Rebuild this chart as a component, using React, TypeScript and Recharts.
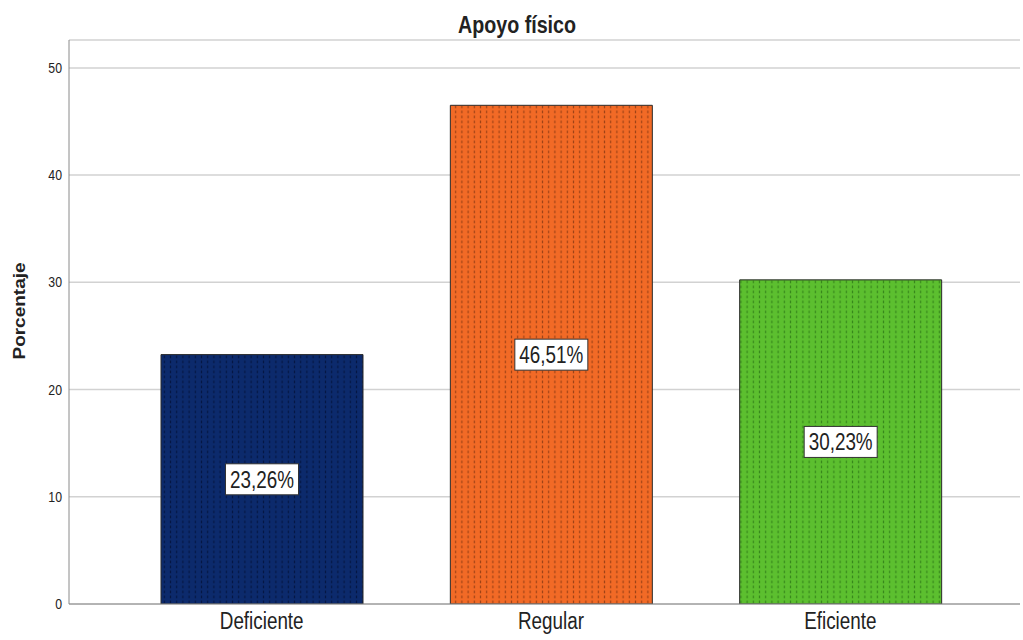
import React from 'react';
import { BarChart, Bar, XAxis, YAxis, CartesianGrid, Cell, LabelList } from 'recharts';

const categories = ['Deficiente', 'Regular', 'Eficiente'];
const percentages = [23.26, 46.51, 30.23];
const yTicks = [0, 10, 20, 30, 40, 50];
const barColors = ['#0c2a6c', '#f26a26', '#5cbf2f'];
const dashColors = ['#04133a', '#8c3a12', '#2f7a18'];

const data = categories.map((name, i) => ({ name, value: percentages[i] }));

const FONT = "'Liberation Sans', Arial, sans-serif";
const SQUEEZE = 0.82;

// text drawn slightly condensed, like the exported SPSS output
const NarrowText = ({ x, y, size, anchor = 'middle', bold = false, children }: any) => (
  <g transform={`translate(${x},${y}) scale(${SQUEEZE},1)`}>
    <text x={0} y={0} textAnchor={anchor} fontSize={size} fontFamily={FONT}
      fontWeight={bold ? 'bold' : 'normal'} fill="#222">
      {children}
    </text>
  </g>
);

const YTick = ({ x, y, payload }: any) => (
  <NarrowText x={x} y={y + 5} size={15} anchor="end">{payload.value}</NarrowText>
);

const XTick = ({ x, y, payload }: any) => (
  <NarrowText x={x} y={y + 17} size={23}>{payload.value}</NarrowText>
);

const fmt = (v: number) => v.toFixed(2).replace('.', ',') + '%';

const ValueBox = ({ x, y, width, height, value }: any) => {
  const cx = x + width / 2;
  const cy = y + height / 2;
  return (
    <g>
      <rect x={cx - 36.5} y={cy - 15.5} width={73} height={31} fill="#fff" stroke="#333" strokeWidth={1} />
      <NarrowText x={cx} y={cy + 8.5} size={23}>{fmt(value)}</NarrowText>
    </g>
  );
};

export default function App() {
  return (
    <div style={{ position: 'absolute', left: 0, top: 0, width: 1023, height: 640, background: '#fff' }}>
      <BarChart width={1023} height={640} data={data} margin={{ top: 40, right: 3, left: 0, bottom: 6 }}>
        <defs>
          {barColors.map((c, i) => (
            <pattern key={i} id={`dots-${i}`} width={6.2} height={5} patternUnits="userSpaceOnUse">
              <rect x={0} y={0} width={6.2} height={5} fill={c} />
              <rect x={2.5} y={0.5} width={1.2} height={2.8} fill={dashColors[i]} opacity={0.8} />
            </pattern>
          ))}
        </defs>
        <CartesianGrid vertical={false} stroke="#d2d2d2" strokeWidth={1.5} />
        <XAxis dataKey="name" padding={{ left: 48, right: 35 }} tickLine={false}
          stroke="#8a8a8a" height={30} tick={<XTick />} interval={0} />
        <YAxis domain={[0, 52.6]} ticks={yTicks} width={69} tickLine={false}
          stroke="#8a8a8a" tickSize={5} tickMargin={2} tick={<YTick />} allowDataOverflow />
        <Bar dataKey="value" barSize={202} stroke="#2a2a2a" strokeWidth={1} isAnimationActive={false}>
          {data.map((_, i) => (
            <Cell key={i} fill={`url(#dots-${i})`} />
          ))}
          <LabelList dataKey="value" content={<ValueBox />} />
        </Bar>
      </BarChart>
      <svg width={1023} height={640} style={{ position: 'absolute', left: 0, top: 0, pointerEvents: 'none' }}>
        <NarrowText x={517} y={33} size={24} bold>Apoyo físico</NarrowText>
        {/* rotated axis title: the condensing applies across the glyphs here */}
        <g transform="translate(25,311) rotate(-90) scale(1,0.82)">
          <text x={0} y={0} textAnchor="middle" fontSize={19} fontFamily={FONT} fontWeight="bold" fill="#222">
            Porcentaje
          </text>
        </g>
      </svg>
    </div>
  );
}
